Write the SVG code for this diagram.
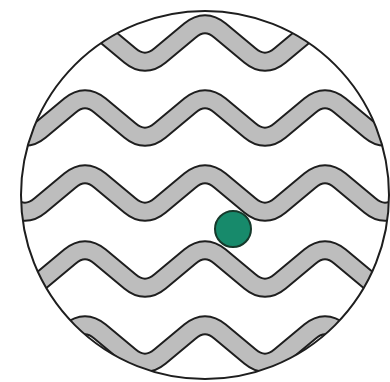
<svg xmlns="http://www.w3.org/2000/svg" width="390" height="382" viewBox="0 0 390 382">
  <defs>
    <clipPath id="disc">
      <circle cx="205" cy="195" r="184"/>
    </clipPath>
    <path id="wave" d="M -35,-6 L 10,31.5 Q 25,44 40,31.5 L 70,6.5 Q 85,-6 100,6.5 L 130,31.5 Q 145,44 160,31.5 L 190,6.5 Q 205,-6 220,6.5 L 250,31.5 Q 265,44 280,31.5 L 310,6.5 Q 325,-6 340,6.5 L 370,31.5 Q 385,44 400,31.5 L 445,-6"/>
    <g id="band">
      <use href="#wave" fill="none" stroke="#1e1e1e" stroke-width="20"/>
      <use href="#wave" fill="none" stroke="#bdbdbd" stroke-width="16"/>
    </g>
  </defs>
  <rect width="390" height="382" fill="#ffffff"/>
  <g id="waves" clip-path="url(#disc)">
    <use href="#band" transform="translate(0,24)"/>
    <use href="#band" transform="translate(0,99)"/>
    <use href="#band" transform="translate(0,174)"/>
    <use href="#band" transform="translate(0,250)"/>
    <use href="#band" transform="translate(0,325)"/>
  </g>
  <g id="outline">
    <circle cx="205" cy="195" r="184" fill="none" stroke="#1e1e1e" stroke-width="2"/>
  </g>
  <g id="dot">
    <circle cx="233" cy="229" r="18" fill="#178a6b" stroke="#16392b" stroke-width="2"/>
  </g>
</svg>
